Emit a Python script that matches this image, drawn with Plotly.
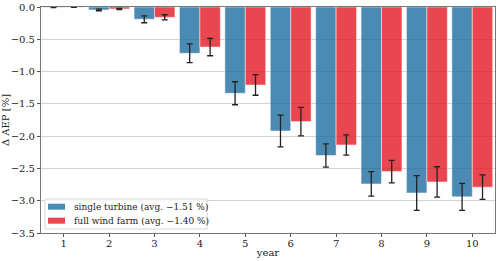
import plotly.graph_objects as go

years = [1, 2, 3, 4, 5, 6, 7, 8, 9, 10]
single_turbine = [-0.005, -0.046, -0.19, -0.717, -1.336, -1.92, -2.30, -2.74, -2.88, -2.94]
single_err = [0.004, 0.012, 0.054, 0.145, 0.178, 0.245, 0.18, 0.19, 0.27, 0.21]
full_farm = [-0.003, -0.03, -0.16, -0.62, -1.207, -1.775, -2.136, -2.549, -2.709, -2.79]
full_err = [0.003, 0.01, 0.04, 0.135, 0.16, 0.22, 0.157, 0.175, 0.235, 0.19]
labels = ["single turbine (avg. \u22121.51 %)", "full wind farm (avg. \u22121.40 %)"]

blue = "rgba(30,110,160,0.8)"
red = "rgba(226,25,35,0.8)"
font = "DejaVu Serif"

W, H = 500, 261
L, R, T, B = 41, 5, 7, 28
pw, ph = W - L - R, H - T - B

def px(x):
    return (x - L) / pw

def py(y):
    return (H - B - y) / ph

fig = go.Figure()
for vals, errs, col in [(single_turbine, single_err, blue), (full_farm, full_err, red)]:
    fig.add_trace(go.Bar(
        x=years, y=vals, marker=dict(color=col, line=dict(color="rgba(255,255,255,0.6)", width=0.8)),
        error_y=dict(type="data", array=errs, color="#222222", thickness=1.3, width=3),
        showlegend=False,
    ))

# manual legend (matplotlib style)
shapes = [dict(type="rect", xref="paper", yref="paper", x0=px(45), x1=px(207), y0=py(229), y1=py(199),
               line=dict(color="#d6d6d6", width=1), fillcolor="rgba(255,255,255,0.85)", layer="above")]
annotations = []
for lab, col, cy in zip(labels, [blue, red], [206.7, 220.7]):
    shapes.append(dict(type="rect", xref="paper", yref="paper", x0=px(48), x1=px(65),
                       y0=py(cy + 3), y1=py(cy - 3), line=dict(width=0), fillcolor=col, layer="above"))
    annotations.append(dict(xref="paper", yref="paper", x=px(72), y=py(cy), text=lab,
                            showarrow=False, xanchor="left", yanchor="middle",
                            font=dict(family=font, size=9, color="#222222")))

fig.update_layout(
    width=W, height=H,
    margin=dict(l=L, r=R, t=T, b=B, autoexpand=False),
    barmode="group", bargap=0.1, bargroupgap=0,
    plot_bgcolor="white", paper_bgcolor="white",
    font=dict(family=font, size=10, color="#222222"),
    showlegend=False,
    shapes=shapes, annotations=annotations,
    xaxis=dict(range=[0.5, 10.5], tickvals=years, ticks="outside", ticklen=3,
               tickcolor="#555", showgrid=False, showline=True, linecolor="#777",
               linewidth=1, mirror=True, zeroline=False, automargin=False,
               ticklabelstandoff=-2,
               title=dict(text="year", standoff=0, font=dict(size=10))),
    yaxis=dict(range=[-3.5, 0], dtick=0.5, tickformat=".1f", ticks="outside", ticklen=3,
               tickcolor="#555", showgrid=True, gridcolor="#d3d3d3", gridwidth=1,
               showline=True, linecolor="#777", linewidth=1, mirror=True, zeroline=False,
               automargin=False,
               title=dict(text="\u0394 AEP [%]", standoff=2, font=dict(size=10))),
)
fig.write_html("out.html", config={"displayModeBar": False},
               post_script="document.body.style.margin='0';")
